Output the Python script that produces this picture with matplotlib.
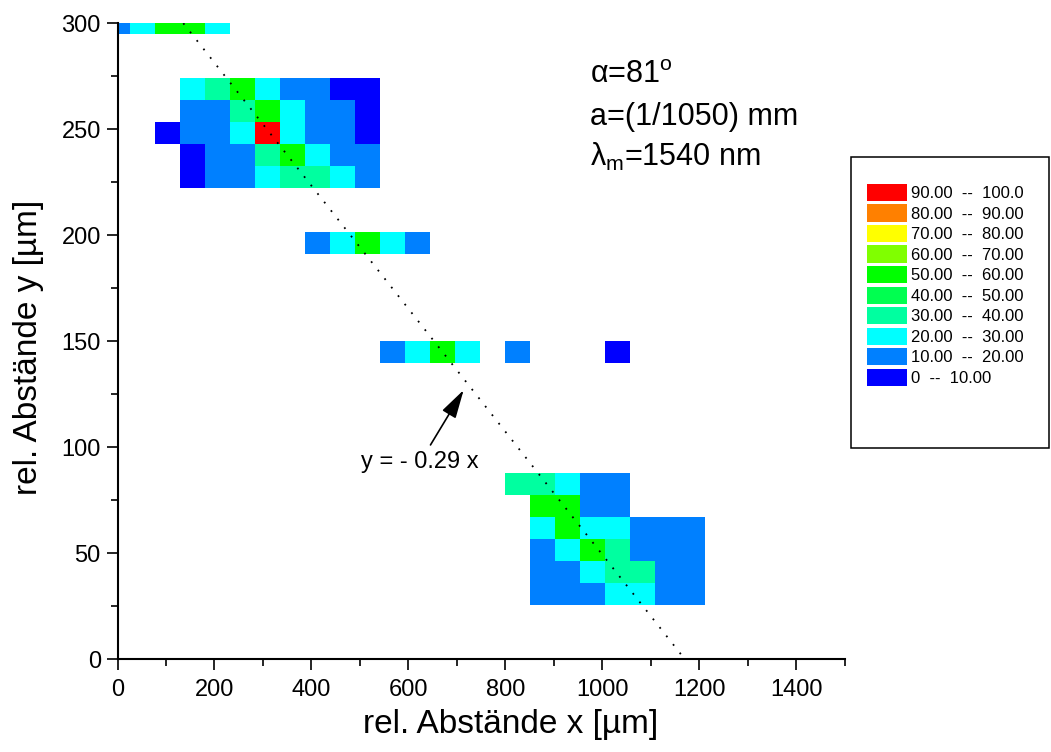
import numpy as np
import matplotlib
matplotlib.use('Agg')
import matplotlib.pyplot as plt
from matplotlib.colors import ListedColormap, BoundaryNorm
from matplotlib.patches import Patch, Rectangle
from matplotlib.ticker import MultipleLocator

plt.rcParams['font.family'] = ['Liberation Sans', 'DejaVu Sans']
plt.rcParams['mathtext.fontset'] = 'custom'
plt.rcParams['mathtext.rm'] = 'Liberation Sans'
plt.rcParams['mathtext.it'] = 'Liberation Sans:italic'

# grid of the scan (um)
dx = 51.6
dy = 10.35
y_top = 300.0
n_rows = 27
n_cols = 24

# rows that have data: row number (from top), first column, cell values (nan = empty)
row_index = [0, 3, 4, 5, 6, 7, 10, 15, 21, 22, 23, 24, 25, 26]
row_first_col = [0, 3, 3, 2, 3, 3, 8, 11, 16, 17, 17, 17, 17, 17]
nan = np.nan
row_values = [
    [15, 25, 55, 55, 25],
    [25, 35, 55, 25, 15, 15, 5, 5],
    [15, 15, 35, 55, 25, 15, 15, 5],
    [5, 15, 15, 25, 95, 25, 15, 15, 5],
    [5, 15, 15, 35, 55, 25, 15, 15],
    [5, 15, 15, 25, 35, 35, 25, 15],
    [15, 25, 55, 25, 15],
    [15, 25, 55, 25, nan, 15, nan, nan, nan, 5],
    [35, 35, 25, 15, 15],
    [55, 55, 15, 15],
    [25, 55, 25, 25, 15, 15, 15],
    [15, 25, 55, 35, 15, 15, 15],
    [15, 15, 25, 35, 35, 15, 15],
    [15, 15, 15, 25, 25, 15, 15],
]

levels = [0, 10, 20, 30, 40, 50, 60, 70, 80, 90, 100]
level_colors = ['#0000ff', '#0080ff', '#00ffff', '#00ffa0', '#00ff50',
                '#00ff00', '#80ff00', '#ffff00', '#ff8000', '#ff0000']
level_labels = ['0  --  10.00', '10.00  --  20.00', '20.00  --  30.00',
                '30.00  --  40.00', '40.00  --  50.00', '50.00  --  60.00',
                '60.00  --  70.00', '70.00  --  80.00', '80.00  --  90.00',
                '90.00  --  100.0']

# fitted line y = b - 0.29 x
slope = -0.29
intercept = 339.4
line_x = [135.7, 1170.3]

Z = np.full((n_rows, n_cols), np.nan)
for r, c0, vals in zip(row_index, row_first_col, row_values):
    Z[r, c0:c0 + len(vals)] = vals

x_edges = (np.arange(n_cols + 1) - 0.5) * dx
y_edges = y_top - (np.arange(n_rows + 1) - 0.5) * dy

cmap = ListedColormap(level_colors)
norm = BoundaryNorm(levels, cmap.N)

fig = plt.figure(figsize=(10.51, 7.52), dpi=100)
ax = fig.add_axes([0.1118, 0.1233, 0.8037 - 0.1118, 0.969 - 0.1233])

ax.pcolormesh(x_edges, y_edges, np.ma.masked_invalid(Z), cmap=cmap, norm=norm,
              edgecolors='none', antialiased=False)

lx = np.array(line_x)
ax.plot(lx, intercept + slope * lx, color='black', lw=1.3, linestyle=(0, (1, 5)))

ax.annotate('y = - 0.29 x', xy=(714, 127), xytext=(624, 90.1), ha='center', va='baseline',
            fontsize=17,
            arrowprops=dict(arrowstyle='-|>,head_length=1.1,head_width=0.3',
                            mutation_scale=16, color='black', lw=1.2, shrinkA=3, shrinkB=0))

ax.text(975, 272.0, 'α=81$^{\\mathrm{o}}$', fontsize=22, va='baseline')
ax.text(975, 252.2, 'a=(1/1050) mm', fontsize=22, va='baseline')
ax.text(975, 232.6, 'λ$_{\\mathrm{m}}$=1540 nm', fontsize=22, va='baseline')

ax.set_xlim(0, 1500)
ax.set_ylim(0, 300)
ax.set_xticks(np.arange(0, 1401, 200))
ax.set_yticks(np.arange(0, 301, 50))
ax.xaxis.set_minor_locator(MultipleLocator(100))
ax.yaxis.set_minor_locator(MultipleLocator(25))
for side in ['top', 'right']:
    ax.spines[side].set_visible(False)
for side in ['left', 'bottom']:
    ax.spines[side].set_linewidth(1.5)
ax.tick_params(which='major', direction='out', length=8, width=1.2, labelsize=17)
ax.tick_params(which='minor', direction='out', length=5, width=1.2)
ax.tick_params(axis='x', which='major', pad=6)
ax.tick_params(axis='y', which='major', pad=4)

ax.set_xlabel('rel. Abstände x [µm]', fontsize=24)
ax.set_ylabel('rel. Abstände y [µm]', fontsize=24)
ax.xaxis.set_label_coords(0.54, -0.078)
ax.yaxis.set_label_coords(-0.101, 0.490)

# legend box
fig.add_artist(Rectangle((851 / 1051, 1 - 448 / 752), (1049 - 851) / 1051, (448 - 157) / 752,
                         transform=fig.transFigure, facecolor='white', edgecolor='black',
                         lw=1.1, zorder=1))
handles = [Patch(facecolor=c, edgecolor='none') for c in level_colors[::-1]]
fig.legend(handles, level_labels[::-1], loc='upper left',
           bbox_to_anchor=(867 / 1051, 1 - 184 / 752), bbox_transform=fig.transFigure,
           frameon=False, fontsize=12, handlelength=2.4, handleheight=1.2,
           labelspacing=0.2, handletextpad=0.25, borderpad=0, borderaxespad=0)

fig.savefig('out.png', dpi=100)
